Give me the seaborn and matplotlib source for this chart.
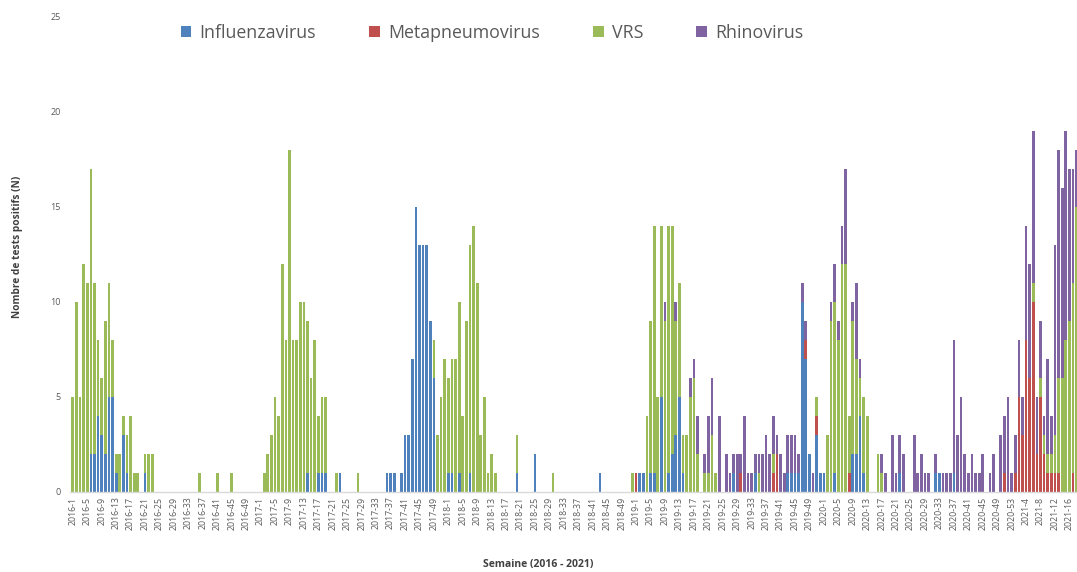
import matplotlib
matplotlib.use("Agg")
import matplotlib.pyplot as plt
import pandas as pd
import seaborn as sns
from matplotlib.patches import Patch

# weeks per year shown on the axis (2020 has a week 53, 2021 stops at week 18)
years = [2016, 2017, 2018, 2019, 2020, 2021]
weeks_per_year = [52, 52, 52, 52, 53, 18]

# Influenzavirus
flu_2016 = [0, 0, 0, 0, 0, 2, 2, 4, 3, 2, 5, 5, 1, 0, 3, 1, 0, 0, 0, 0,
            1, 0, 0, 0, 0, 0, 0, 0, 0, 0, 0, 0, 0, 0, 0, 0, 0, 0, 0, 0,
            0, 0, 0, 0, 0, 0, 0, 0, 0, 0, 0, 0]
flu_2017 = [0, 0, 0, 0, 0, 0, 0, 0, 0, 0, 0, 0, 0, 1, 0, 0, 1, 1, 1, 0,
            0, 0, 1, 0, 0, 0, 0, 0, 0, 0, 0, 0, 0, 0, 0, 1, 1, 1, 0, 1,
            3, 3, 7, 15, 13, 13, 13, 9, 6, 0, 0, 0]
flu_2018 = [1, 1, 0, 1, 0, 0, 1, 0, 0, 0, 0, 0, 0, 0, 0, 0, 0, 0, 0, 1,
            0, 0, 0, 0, 2, 0, 0, 0, 0, 0, 0, 0, 0, 0, 0, 0, 0, 0, 0, 0,
            0, 0, 1, 0, 0, 0, 0, 0, 0, 0, 0, 0]
flu_2019 = [0, 1, 1, 0, 1, 1, 0, 5, 0, 1, 2, 3, 5, 1, 0, 0, 0, 0, 0, 0,
            0, 0, 0, 0, 0, 0, 0, 1, 0, 0, 0, 0, 0, 1, 0, 0, 0, 0, 0, 0,
            0, 0, 1, 1, 1, 1, 10, 7, 2, 0, 3, 1]
flu_2020 = [1, 0, 0, 1, 0, 0, 0, 0, 2, 2, 4, 1, 0, 0, 0, 0, 0, 0, 0, 0,
            0, 1, 0, 0, 0, 0, 0, 0, 0, 0, 0, 1, 1, 0, 0, 0, 1, 0, 0, 0,
            0, 0, 0, 0, 0, 0, 0, 0, 0, 0, 0, 0, 0]
flu_2021 = [0, 0, 0, 0, 0, 0, 0, 0, 0, 0, 0, 0, 0, 0, 0, 0, 0, 0]

# Metapneumovirus
meta_2016 = [0] * 52
meta_2017 = [0] * 52
meta_2018 = [0] * 52
meta_2019 = [1, 0, 0, 0, 0, 0, 0, 0, 0, 0, 0, 0, 0, 0, 0, 0, 0, 0, 0, 0,
             0, 0, 0, 0, 0, 0, 0, 0, 0, 1, 0, 0, 0, 0, 0, 0, 0, 0, 1, 2,
             0, 0, 0, 0, 0, 0, 0, 1, 0, 0, 1, 0]
meta_2020 = [0, 0, 0, 0, 0, 0, 0, 1, 0, 0, 0, 0, 0, 0, 0, 0, 0, 0, 0, 0,
             0, 0, 0, 0, 0, 0, 0, 0, 0, 0, 0, 0, 0, 0, 0, 0, 0, 0, 0, 0,
             0, 0, 0, 0, 0, 0, 0, 0, 0, 0, 1, 0, 0]
meta_2021 = [1, 5, 3, 8, 6, 10, 2, 5, 2, 1, 1, 1, 1, 0, 0, 0, 1, 0]

# VRS
vrs_2016 = [5, 10, 5, 12, 11, 15, 9, 4, 3, 7, 6, 3, 1, 2, 1, 2, 4, 1, 1, 0,
            1, 2, 2, 0, 0, 0, 0, 0, 0, 0, 0, 0, 0, 0, 0, 1, 0, 0, 0, 0,
            1, 0, 0, 0, 1, 0, 0, 0, 0, 0, 0, 0]
vrs_2017 = [0, 1, 2, 3, 5, 4, 12, 8, 18, 8, 8, 10, 10, 8, 6, 8, 3, 4, 4, 0,
            0, 1, 0, 0, 0, 0, 0, 1, 0, 0, 0, 0, 0, 0, 0, 0, 0, 0, 0, 0,
            0, 0, 0, 0, 0, 0, 0, 0, 2, 3, 5, 7]
vrs_2018 = [5, 6, 7, 9, 4, 9, 12, 14, 11, 3, 5, 1, 2, 1, 0, 0, 0, 0, 0, 2,
            0, 0, 0, 0, 0, 0, 0, 0, 0, 1, 0, 0, 0, 0, 0, 0, 0, 0, 0, 0,
            0, 0, 0, 0, 0, 0, 0, 0, 0, 0, 0, 1]
vrs_2019 = [0, 0, 0, 4, 8, 13, 5, 9, 9, 13, 12, 6, 6, 2, 3, 5, 6, 2, 0, 1,
            1, 3, 1, 0, 0, 0, 0, 0, 0, 0, 0, 0, 0, 0, 1, 0, 0, 0, 1, 0,
            0, 0, 0, 0, 0, 0, 0, 0, 0, 0, 1, 0]
vrs_2020 = [0, 3, 9, 9, 8, 12, 12, 3, 7, 5, 2, 4, 4, 0, 0, 2, 1, 0, 0, 0,
            0, 0, 0, 0, 0, 0, 0, 0, 0, 0, 0, 0, 0, 0, 0, 0, 0, 0, 0, 0,
            0, 0, 0, 0, 0, 0, 0, 0, 0, 0, 0, 0, 0]
vrs_2021 = [0, 0, 0, 0, 0, 1, 0, 1, 1, 1, 1, 2, 5, 6, 8, 9, 10, 15]

# Rhinovirus
rhino_2016 = [0] * 52
rhino_2017 = [0] * 52
rhino_2018 = [0] * 52
rhino_2019 = [0, 0, 0, 0, 0, 0, 0, 0, 1, 0, 0, 1, 0, 0, 0, 1, 1, 2, 0, 1,
              3, 3, 0, 4, 0, 2, 1, 1, 2, 1, 4, 1, 1, 1, 1, 2, 3, 2, 2, 1,
              2, 1, 2, 2, 2, 1, 1, 1, 0, 1, 0, 0]
rhino_2020 = [0, 0, 1, 2, 1, 2, 5, 0, 1, 4, 1, 0, 0, 0, 0, 0, 1, 1, 0, 3,
              1, 2, 2, 0, 0, 3, 1, 2, 1, 1, 0, 1, 0, 1, 1, 1, 7, 3, 5, 2,
              1, 2, 1, 1, 2, 0, 1, 2, 0, 3, 3, 5, 1]
rhino_2021 = [2, 3, 2, 6, 6, 8, 3, 3, 1, 5, 2, 10, 12, 10, 11, 8, 6, 3]

series = {
    "Influenzavirus": flu_2016 + flu_2017 + flu_2018 + flu_2019 + flu_2020 + flu_2021,
    "Metapneumovirus": meta_2016 + meta_2017 + meta_2018 + meta_2019 + meta_2020 + meta_2021,
    "VRS": vrs_2016 + vrs_2017 + vrs_2018 + vrs_2019 + vrs_2020 + vrs_2021,
    "Rhinovirus": rhino_2016 + rhino_2017 + rhino_2018 + rhino_2019 + rhino_2020 + rhino_2021,
}
colors = {
    "Influenzavirus": "#4F81BD",
    "Metapneumovirus": "#C0504D",
    "VRS": "#9BBB59",
    "Rhinovirus": "#8064A2",
}

week_labels = [f"{y}-{w}" for y, n in zip(years, weeks_per_year) for w in range(1, n + 1)]
n_weeks = len(week_labels)

rows = []
for virus, values in series.items():
    for i, v in enumerate(values):
        rows.append({"semaine": i, "virus": virus, "n": v})
df = pd.DataFrame(rows)

sns.set_theme(style="white")
plt.rcParams["font.family"] = ["Open Sans", "DejaVu Sans"]

fig = plt.figure(figsize=(10.77, 5.72), dpi=100)
ax = fig.add_axes([70.3 / 1077, 80.3 / 572, (1077 - 70.3) / 1077, (491.7 - 17) / 572])

# seaborn stacks the last hue level at the bottom
stack_order = ["Rhinovirus", "VRS", "Metapneumovirus", "Influenzavirus"]
sns.histplot(
    data=df, x="semaine", weights="n", hue="virus", hue_order=stack_order,
    multiple="stack", discrete=True, shrink=0.75, palette=colors,
    alpha=1, linewidth=0, legend=False, ax=ax,
)

ax.set_xlim(-0.7, 278.1)
ax.set_ylim(0, 25)
ax.set_yticks([0, 5, 10, 15, 20, 25])
ax.set_xticks(range(0, n_weeks, 4))
ax.set_xticklabels(week_labels[::4], rotation=90)
ax.tick_params(axis="x", length=0, pad=3.5, labelsize=6.3, labelcolor="#595959")
ax.tick_params(axis="y", length=0, pad=7, labelsize=6.5, labelcolor="#595959")
ax.set_xlabel("")
ax.set_ylabel("")
for side in ["top", "right", "left"]:
    ax.spines[side].set_visible(False)
ax.spines["bottom"].set_color("#D9D9D9")
ax.spines["bottom"].set_linewidth(1)

fig.text(18 / 1077, 1 - 247 / 572, "Nombre de tests positifs (N)", rotation=90,
         ha="center", va="center", fontsize=7.3, fontweight="bold", color="#404040")
fig.text(538 / 1077, 1 - 565 / 572, "Semaine (2016 - 2021)",
         ha="center", va="center", fontsize=7.5, fontweight="bold", color="#404040")

legend_order = ["Influenzavirus", "Metapneumovirus", "VRS", "Rhinovirus"]
handles = [Patch(facecolor=colors[v], edgecolor="none") for v in legend_order]
fig.legend(handles, legend_order, loc="center", bbox_to_anchor=(492 / 1077, 1 - 33 / 572),
           ncol=4, frameon=False, fontsize=12.8, labelcolor="#595959",
           handlelength=0.6, handleheight=0.6, handletextpad=0.45, columnspacing=3.0)

fig.savefig("out.png", dpi=100)
